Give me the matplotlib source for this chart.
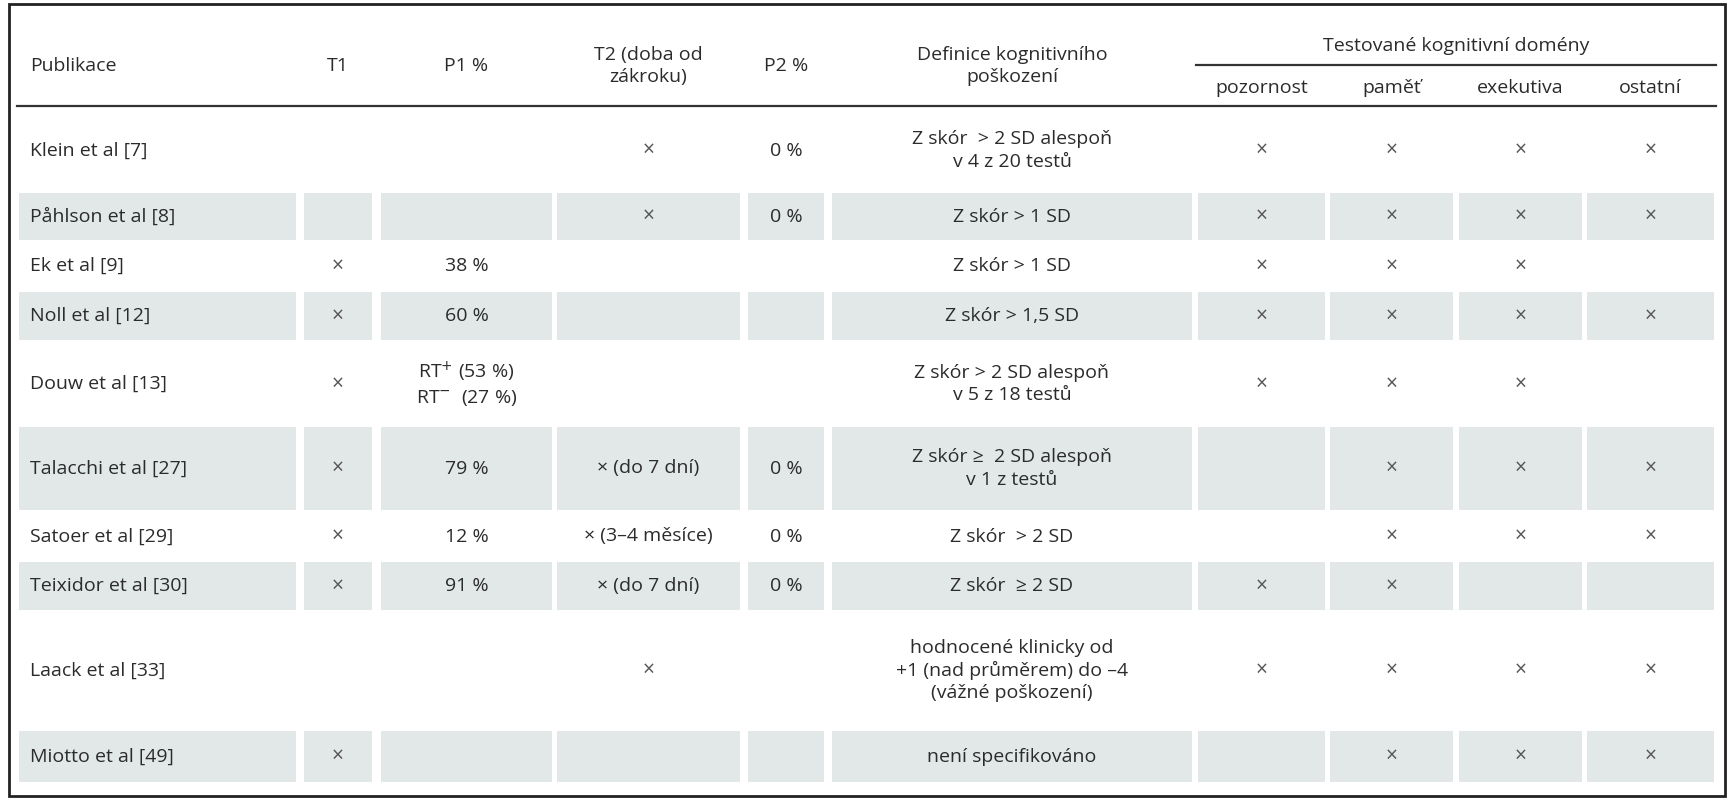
import matplotlib

matplotlib.use("Agg")
import matplotlib.pyplot as plt
from matplotlib.patches import Rectangle

INK = "#2b2b2b"
SHADE = "#e2e8e8"
X = "×"

publikace = ["Klein et al [7]", "Påhlson et al [8]", "Ek et al [9]", "Noll et al [12]",
             "Douw et al [13]", "Talacchi et al [27]", "Satoer et al [29]",
             "Teixidor et al [30]", "Laack et al [33]", "Miotto et al [49]"]
t1 = ["", "", X, X, X, X, X, X, "", X]
p1 = ["", "", "38 %", "60 %", "RT$^{+}$ (53 %)\nRT$^{-}$  (27 %)", "79 %", "12 %", "91 %", "", ""]
t2 = [X, X, "", "", "", X + " (do 7 dní)", X + " (3–4 měsíce)", X + " (do 7 dní)", X, ""]
p2 = ["0 %", "0 %", "", "", "", "0 %", "0 %", "0 %", "", ""]
definice = ["Z skór  > 2 SD alespoň\nv 4 z 20 testů", "Z skór > 1 SD", "Z skór > 1 SD",
            "Z skór > 1,5 SD", "Z skór > 2 SD alespoň\nv 5 z 18 testů",
            "Z skór ≥  2 SD alespoň\nv 1 z testů", "Z skór  > 2 SD", "Z skór  ≥ 2 SD",
            "hodnocené klinicky od\n+1 (nad průměrem) do –4\n(vážné poškození)",
            "není specifikováno"]
pozornost = [X, X, X, X, X, "", "", X, X, ""]
pamet = [X] * 10
exekutiva = [X, X, X, X, X, X, X, "", X, X]
ostatni = [X, X, "", X, "", X, X, "", X, X]

cols = [publikace, t1, p1, t2, p2, definice, pozornost, pamet, exekutiva, ostatni]
col_edges = [(19, 296), (304, 372), (381, 552), (557, 740), (748, 824), (832, 1192),
             (1198, 1325), (1330, 1453), (1459, 1582), (1587, 1714)]
row_edges = [(110, 191), (193, 240), (241, 291), (292, 340), (342, 426), (427, 510),
             (512, 561), (562, 610), (612, 729), (731, 782)]

plt.rcParams["font.family"] = ["Open Sans", "DejaVu Sans"]
fig = plt.figure(figsize=(17.31, 8), dpi=100)
ax = fig.add_axes([0, 0, 1, 1])
ax.set_xlim(0, 1731)
ax.set_ylim(800, 0)
ax.axis("off")

ax.add_patch(Rectangle((9, 4), 1716, 792, fill=False, edgecolor="#222222", linewidth=2))
ax.plot([17, 1716], [106, 106], color="#333333", lw=1.6)
ax.plot([1196, 1716], [65, 65], color="#333333", lw=1.6)

fs = 14
xs = 15
headers = ["Publikace", "T1", "P1 %", "T2 (doba od\nzákroku)", "P2 %",
           "Definice kognitivního\npoškození"]
for i, h in enumerate(headers):
    x0, x1 = col_edges[i]
    if i == 0:
        ax.text(30, 66, h, ha="left", va="center", fontsize=fs, color=INK, linespacing=1.3)
    else:
        ax.text((x0 + x1) / 2, 66, h, ha="center", va="center", fontsize=fs, color=INK,
                linespacing=1.3)
ax.text(1456, 46, "Testované kognitivní domény", ha="center", va="center", fontsize=fs, color=INK)
for i, h in enumerate(["pozornost", "paměť", "exekutiva", "ostatní"]):
    x0, x1 = col_edges[6 + i]
    ax.text((x0 + x1) / 2, 88, h, ha="center", va="center", fontsize=fs, color=INK)

for r, (y0, y1) in enumerate(row_edges):
    if r % 2 == 1:
        for x0, x1 in col_edges:
            ax.add_patch(Rectangle((x0, y0), x1 - x0, y1 - y0, color=SHADE, lw=0))
    yc = (y0 + y1) / 2
    for c, col in enumerate(cols):
        s = col[r]
        if not s:
            continue
        x0, x1 = col_edges[c]
        if c == 0:
            ax.text(30, yc, s, ha="left", va="center", fontsize=fs, color=INK)
        elif s == X:
            ax.text((x0 + x1) / 2, yc, s, ha="center", va="center", fontsize=xs,
                    color="#555555")
        else:
            ax.text((x0 + x1) / 2, yc, s, ha="center", va="center", fontsize=fs,
                    color=INK, linespacing=1.3)

fig.savefig("out.png", dpi=100, facecolor="white")
